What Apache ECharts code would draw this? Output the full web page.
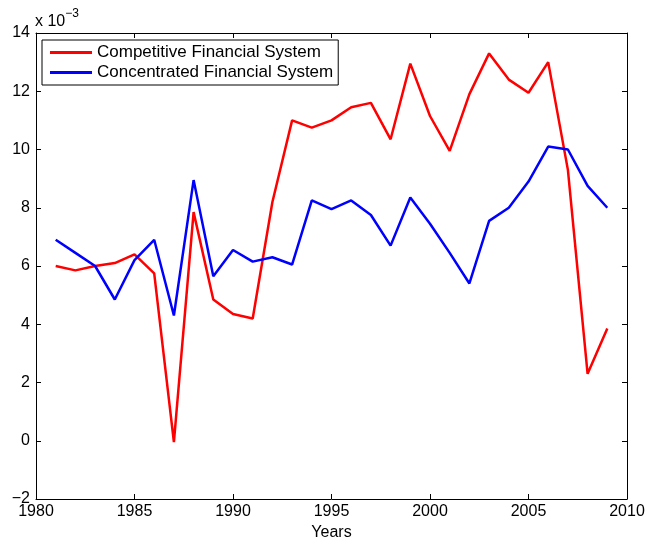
<!DOCTYPE html>
<html>
<head>
<meta charset="utf-8">
<script src="https://cdn.jsdelivr.net/npm/echarts@6/dist/echarts.min.js"></script>
<style>
  html, body { margin: 0; padding: 0; background: #fff; }
  #main { width: 649px; height: 544px; }
</style>
</head>
<body>
<div id="main"></div>
<script>
// values in units of 1e-3
const years = [1981, 1982, 1983, 1984, 1985, 1986, 1987, 1988, 1989, 1990,
  1991, 1992, 1993, 1994, 1995, 1996, 1997, 1998, 1999, 2000,
  2001, 2002, 2003, 2004, 2005, 2006, 2007, 2008, 2009];
const competitive = [6.0, 5.85, 6.0, 6.1, 6.4, 5.75, -0.05, 7.85, 4.85, 4.35,
  4.2, 8.2, 11.0, 10.75, 11.0, 11.45, 11.6, 10.35, 12.95, 11.15,
  9.95, 11.9, 13.3, 12.4, 11.95, 13.0, 9.3, 2.3, 3.85];
const concentrated = [6.9, 6.45, 6.0, 4.85, 6.2, 6.9, 4.3, 8.95, 5.65, 6.55,
  6.15, 6.3, 6.05, 8.25, 7.95, 8.25, 7.75, 6.7, 8.35, 7.45,
  6.45, 5.4, 7.55, 8.0, 8.9, 10.1, 10.0, 8.75, 8.0];
const seriesNames = ["Competitive Financial System", "Concentrated Financial System"];

const font = "Liberation Sans, Arial, Helvetica, sans-serif";
const chart = echarts.init(document.getElementById("main"));

const pairs = (ys) => years.map((y, i) => [y, ys[i]]);

const baseX = {
  type: "value", min: 1980, max: 2010, interval: 5,
  axisLine: { show: true, onZero: false, lineStyle: { color: "#000", width: 1 } },
  axisTick: { show: true, inside: true, length: 5, lineStyle: { color: "#000" } },
  splitLine: { show: false },
};
const baseY = {
  type: "value", min: -2, max: 14, interval: 2,
  axisLine: { show: true, onZero: false, lineStyle: { color: "#000", width: 1 } },
  axisTick: { show: true, inside: true, length: 5, lineStyle: { color: "#000" } },
  splitLine: { show: false },
};

chart.setOption({
  backgroundColor: "#fff",
  animation: false,
  grid: { left: 36, right: 22, top: 33, bottom: 45, outerBoundsMode: "none", containLabel: false },
  legend: {
    orient: "vertical",
    left: 42, top: 40,
    data: seriesNames,
    icon: "rect",
    backgroundColor: "#fff",
    borderColor: "#000", borderWidth: 1, borderRadius: 0,
    padding: [4, 5, 4, 8],
    itemGap: 3,
    itemWidth: 42, itemHeight: 3,
    textStyle: { color: "#000", fontSize: 17, fontFamily: font },
  },
  xAxis: [
    Object.assign({}, baseX, {
      position: "bottom",
      name: "Years", nameLocation: "middle", nameGap: 25,
      nameTextStyle: { color: "#000", fontSize: 16, fontFamily: font },
      axisLabel: { color: "#000", fontSize: 16, fontFamily: font, margin: 5,
        formatter: (v) => String(v) },
    }),
    Object.assign({}, baseX, { position: "top", axisLabel: { show: false } }),
  ],
  yAxis: [
    Object.assign({}, baseY, {
      position: "left",
      axisLabel: { color: "#000", fontSize: 16, fontFamily: font, margin: 6,
        formatter: (v) => (v < 0 ? "\u2212" + Math.abs(v) : String(v)) },
    }),
    Object.assign({}, baseY, { position: "right", axisLabel: { show: false } }),
  ],
  graphic: [{
    type: "text", left: 35, top: 8,
    style: {
      text: "{a|x 10}{b|\u22123}",
      rich: {
        a: { fontSize: 16, fontFamily: font, fill: "#000", verticalAlign: "bottom" },
        b: { fontSize: 12, fontFamily: font, fill: "#000", verticalAlign: "top", padding: [0, 0, 10, 0] },
      },
    },
  }],
  series: [
    {
      name: seriesNames[0], type: "line", data: pairs(competitive),
      symbol: "none", lineStyle: { color: "#ff0000", width: 2.5 }, itemStyle: { color: "#ff0000" },
    },
    {
      name: seriesNames[1], type: "line", data: pairs(concentrated),
      symbol: "none", lineStyle: { color: "#0000ff", width: 2.5 }, itemStyle: { color: "#0000ff" },
    },
  ],
});
</script>
</body>
</html>
